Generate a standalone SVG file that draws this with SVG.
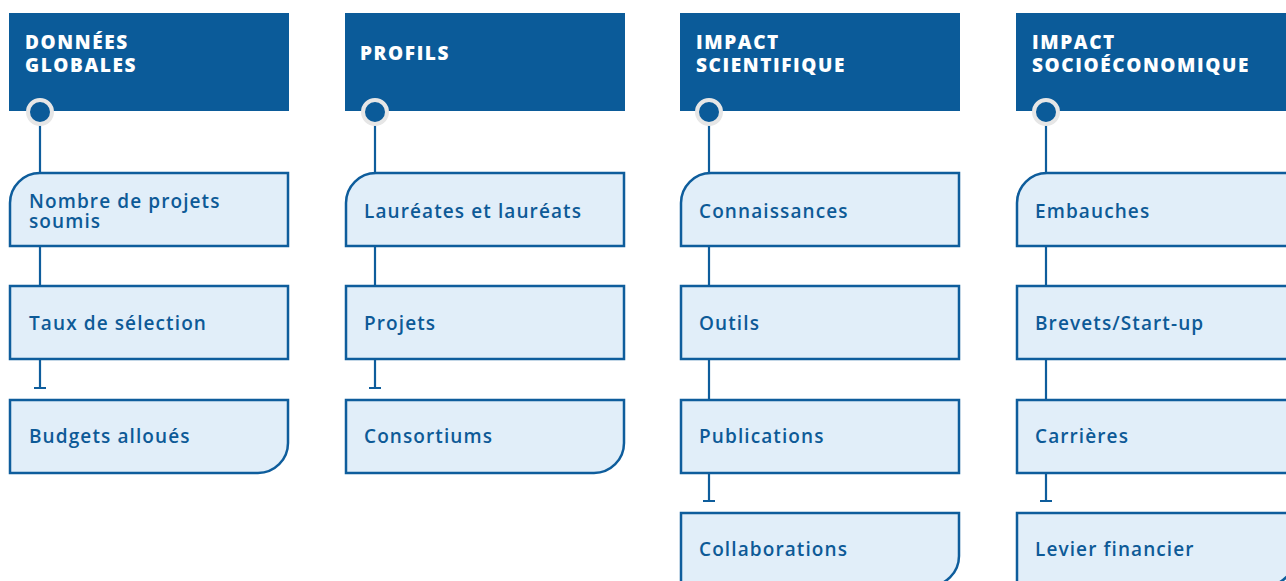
<svg xmlns="http://www.w3.org/2000/svg" width="1286" height="581" viewBox="0 0 1286 581">
<style>
.hdr{fill:#0b5b99}
.ht{font-family:"Open Sans",sans-serif;font-weight:800;font-size:19px;letter-spacing:1.6px;fill:#ffffff}
.box{fill:#e1eef9;stroke:#0e5d9c;stroke-width:2.5}
.bt{font-family:"Open Sans",sans-serif;font-weight:600;font-size:19px;letter-spacing:1.1px;fill:#0d5a97}
.ring{fill:#0b5b99;stroke:#e6e6e6;stroke-width:4}
.ln{stroke:#0e5d9c;stroke-width:2.2;fill:none}
</style>
<rect width="1286" height="581" fill="#ffffff"/>
<g id="connectors">
<path class="ln" d="M40 112V173M40 246V286M40 359V388M34 388H46"/>
<path class="ln" d="M375 112V173M375 246V286M375 359V388M369 388H381"/>
<path class="ln" d="M709 112V173M709 246V286M709 359V400M709 473V501M703 501H715"/>
<path class="ln" d="M1046 112V173M1046 246V286M1046 359V400M1046 473V501M1040 501H1052"/>
</g>
<g id="col1">
<g id="h1"><rect class="hdr" x="9" y="13" width="280" height="98"/><text class="ht" x="25" y="49">DONNÉES<tspan x="25" y="72">GLOBALES</tspan></text><circle class="ring" cx="40" cy="112" r="12"/></g>
<g id="n1a"><path class="box" d="M40 173H288V246H10V203A30 30 0 0 1 40 173Z"/><text class="bt" x="29" y="208">Nombre de projets<tspan x="29" y="228">soumis</tspan></text></g>
<g id="n1b"><rect class="box" x="10" y="286" width="278" height="73"/><text class="bt" x="29" y="330">Taux de sélection</text></g>
<g id="n1c"><path class="box" d="M10 400H288V443A30 30 0 0 1 258 473H10Z"/><text class="bt" x="29" y="443">Budgets alloués</text></g>
</g>
<g id="col2">
<g id="h2"><rect class="hdr" x="345" y="13" width="280" height="98"/><text class="ht" x="360" y="60">PROFILS</text><circle class="ring" cx="375" cy="112" r="12"/></g>
<g id="n2a"><path class="box" d="M376 173H624V246H346V203A30 30 0 0 1 376 173Z"/><text class="bt" x="364" y="218">Lauréates et lauréats</text></g>
<g id="n2b"><rect class="box" x="346" y="286" width="278" height="73"/><text class="bt" x="364" y="330">Projets</text></g>
<g id="n2c"><path class="box" d="M346 400H624V443A30 30 0 0 1 594 473H346Z"/><text class="bt" x="364" y="443">Consortiums</text></g>
</g>
<g id="col3">
<g id="h3"><rect class="hdr" x="680" y="13" width="280" height="98"/><text class="ht" x="696" y="49">IMPACT<tspan x="696" y="72">SCIENTIFIQUE</tspan></text><circle class="ring" cx="709" cy="112" r="12"/></g>
<g id="n3a"><path class="box" d="M711 173H959V246H681V203A30 30 0 0 1 711 173Z"/><text class="bt" x="699" y="218">Connaissances</text></g>
<g id="n3b"><rect class="box" x="681" y="286" width="278" height="73"/><text class="bt" x="699" y="330">Outils</text></g>
<g id="n3c"><rect class="box" x="681" y="400" width="278" height="73"/><text class="bt" x="699" y="443">Publications</text></g>
<g id="n3d"><path class="box" d="M681 513H959V556A30 30 0 0 1 929 586H681Z"/><text class="bt" x="699" y="556">Collaborations</text></g>
</g>
<g id="col4">
<g id="h4"><rect class="hdr" x="1016" y="13" width="280" height="98"/><text class="ht" x="1032" y="49">IMPACT<tspan x="1032" y="72">SOCIOÉCONOMIQUE</tspan></text><circle class="ring" cx="1046" cy="112" r="12"/></g>
<g id="n4a"><path class="box" d="M1047 173H1295V246H1017V203A30 30 0 0 1 1047 173Z"/><text class="bt" x="1035" y="218">Embauches</text></g>
<g id="n4b"><rect class="box" x="1017" y="286" width="278" height="73"/><text class="bt" x="1035" y="330">Brevets/Start-up</text></g>
<g id="n4c"><rect class="box" x="1017" y="400" width="278" height="73"/><text class="bt" x="1035" y="443">Carrières</text></g>
<g id="n4d"><path class="box" d="M1017 513H1295V556A30 30 0 0 1 1265 586H1017Z"/><text class="bt" x="1035" y="556">Levier financier</text></g>
</g>
</svg>
